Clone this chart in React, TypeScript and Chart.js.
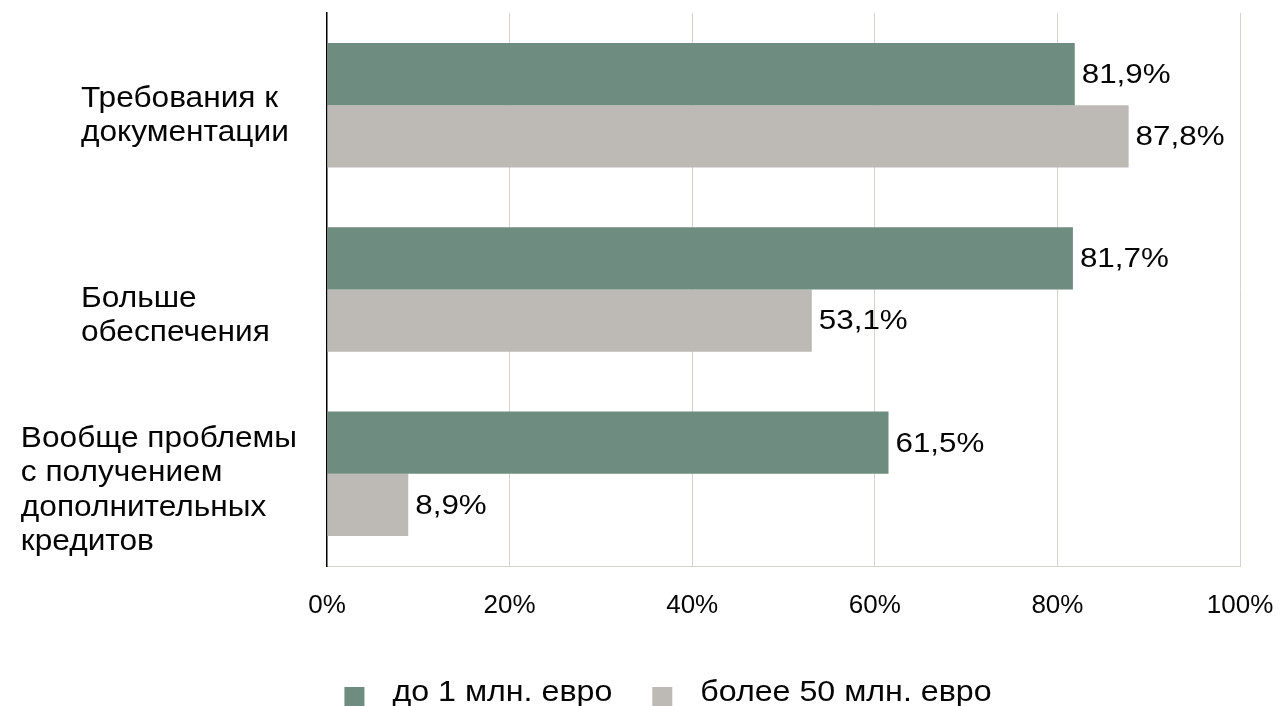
import React, { useEffect, useRef } from 'react';
import { Chart, registerables } from 'chart.js';

Chart.register(...registerables);

// ---- data ----
const categories: string[][] = [
  ['Требования к', 'документации'],
  ['Больше', 'обеспечения'],
  ['Вообще проблемы', 'с получением', 'дополнительных', 'кредитов'],
];
const seriesNames: string[] = ['до 1 млн. евро', 'более 50 млн. евро'];
const smallFirms: number[] = [81.9, 81.7, 61.5];
const largeFirms: number[] = [87.8, 53.1, 8.9];
const xTickStep = 20;
const xMin = 0;
const xMax = 100;

// ---- styles ----
const FONT = '"Liberation Sans", Arial, Helvetica, sans-serif';
const GREEN = '#6f8c81';
const GRAY = '#bdb9b5';
const GRID = '#d6d2ce';
const TEXT = '#050505';

const fmt = (v: number) => v.toFixed(1).replace('.', ',') + '%';

function drawStretched(ctx: CanvasRenderingContext2D, text: string, x: number, y: number, sx: number) {
  ctx.save();
  ctx.translate(x, y);
  ctx.scale(sx, 1);
  ctx.fillText(text, 0, 0);
  ctx.restore();
}

const categoryLabelPlugin = {
  id: 'categoryLabels',
  afterDraw(chart: any, _args: any, opts: any) {
    const { ctx } = chart;
    const yScale = chart.scales.y;
    const labels = chart.data.labels as string[][];
    const size = opts.fontSize;
    const lh = opts.lineHeight;
    const sx = opts.scaleX;
    ctx.save();
    ctx.font = `${size}px ${FONT}`;
    ctx.fillStyle = TEXT;
    ctx.textAlign = 'left';
    ctx.textBaseline = 'alphabetic';
    labels.forEach((lines, i) => {
      const center = yScale.getPixelForValue(i) + (opts.shifts[i] || 0);
      const maxW = Math.max(...lines.map((l) => ctx.measureText(l).width)) * sx;
      const left = Math.min(opts.left, opts.rightLimit - maxW);
      const first = center - ((lines.length - 1) * lh) / 2 + (size * 0.716) / 2;
      lines.forEach((line, k) => drawStretched(ctx, line, left, first + k * lh, sx));
    });
    ctx.restore();
  },
};

const valueLabelPlugin = {
  id: 'valueLabels',
  afterDatasetsDraw(chart: any, _args: any, opts: any) {
    const { ctx } = chart;
    ctx.save();
    ctx.font = `${opts.fontSize}px ${FONT}`;
    ctx.fillStyle = TEXT;
    ctx.textAlign = 'left';
    ctx.textBaseline = 'middle';
    chart.data.datasets.forEach((ds: any, di: number) => {
      const meta = chart.getDatasetMeta(di);
      meta.data.forEach((el: any, i: number) => {
        drawStretched(ctx, fmt(ds.data[i]), el.x + 7, el.y + 1, opts.scaleX);
      });
    });
    ctx.restore();
  },
};

const legendPlugin = {
  id: 'customLegend',
  afterDraw(chart: any, _args: any, opts: any) {
    const { ctx } = chart;
    ctx.save();
    ctx.font = `${opts.fontSize}px ${FONT}`;
    ctx.textAlign = 'left';
    ctx.textBaseline = 'alphabetic';
    const box = 20;
    const gap = 28;
    const spacing = 40;
    const sx = opts.scaleX;
    const items = chart.data.datasets.map((ds: any) => ({
      text: ds.label,
      color: ds.backgroundColor,
      w: ctx.measureText(ds.label).width * sx,
    }));
    const total = items.reduce((s: number, it: any) => s + box + gap + it.w, 0) + spacing * (items.length - 1);
    let x = opts.center - total / 2;
    items.forEach((it: any) => {
      ctx.fillStyle = it.color;
      ctx.fillRect(x, opts.boxTop, box, box);
      ctx.fillStyle = TEXT;
      drawStretched(ctx, it.text, x + box + gap, opts.baseline, sx);
      x += box + gap + it.w + spacing;
    });
    ctx.restore();
  },
};

export default function App() {
  const ref = useRef<HTMLCanvasElement | null>(null);

  useEffect(() => {
    if (!ref.current) return;
    const chart = new Chart(ref.current, {
      type: 'bar',
      data: {
        labels: categories as any,
        datasets: [
          {
            label: seriesNames[0],
            data: smallFirms,
            backgroundColor: GREEN,
            categoryPercentage: 0.675,
            barPercentage: 1.0,
          },
          {
            label: seriesNames[1],
            data: largeFirms,
            backgroundColor: GRAY,
            categoryPercentage: 0.675,
            barPercentage: 1.0,
          },
        ],
      },
      options: {
        indexAxis: 'y',
        responsive: false,
        animation: false,
        layout: { padding: { left: 327, right: 39, top: 13, bottom: 0 } },
        plugins: {
          legend: { display: false },
          tooltip: { enabled: false },
          categoryLabels: { fontSize: 30, scaleX: 1.055, lineHeight: 34.5, left: 81, rightLimit: 297, shifts: [8, 24, 14] },
          valueLabels: { fontSize: 28.5, scaleX: 1.1 },
          customLegend: { fontSize: 29, scaleX: 1.11, center: 668, boxTop: 687, baseline: 701 },
        } as any,
        scales: {
          x: {
            min: xMin,
            max: xMax,
            ticks: {
              stepSize: xTickStep,
              callback: (v: any) => `${v}%`,
              font: { size: 26, family: FONT },
              color: TEXT,
              padding: 24,
              maxRotation: 0,
            },
            grid: {
              color: (c: any) => (c.index === 0 ? 'rgba(0,0,0,0)' : GRID),
              drawTicks: false,
              lineWidth: 1,
            },
            border: { color: GRID, width: 1 },
            afterFit: (s: any) => {
              s.height = 140;
              s.paddingLeft = 0;
              s.paddingRight = 0;
            },
          },
          y: {
            ticks: { display: false },
            grid: { display: false, drawTicks: false },
            border: { display: true, color: '#000', width: 1.5 },
            afterFit: (s: any) => {
              s.width = 0;
              s.paddingTop = 0;
              s.paddingBottom = 0;
            },
          },
        },
      } as any,
      plugins: [categoryLabelPlugin, valueLabelPlugin, legendPlugin],
    });
    return () => chart.destroy();
  }, []);

  return (
    <div style={{ position: 'fixed', left: 0, top: 0, width: 1279, height: 706, background: '#fff' }}>
      <canvas ref={ref} width={1279} height={706} style={{ display: 'block' }} />
    </div>
  );
}
